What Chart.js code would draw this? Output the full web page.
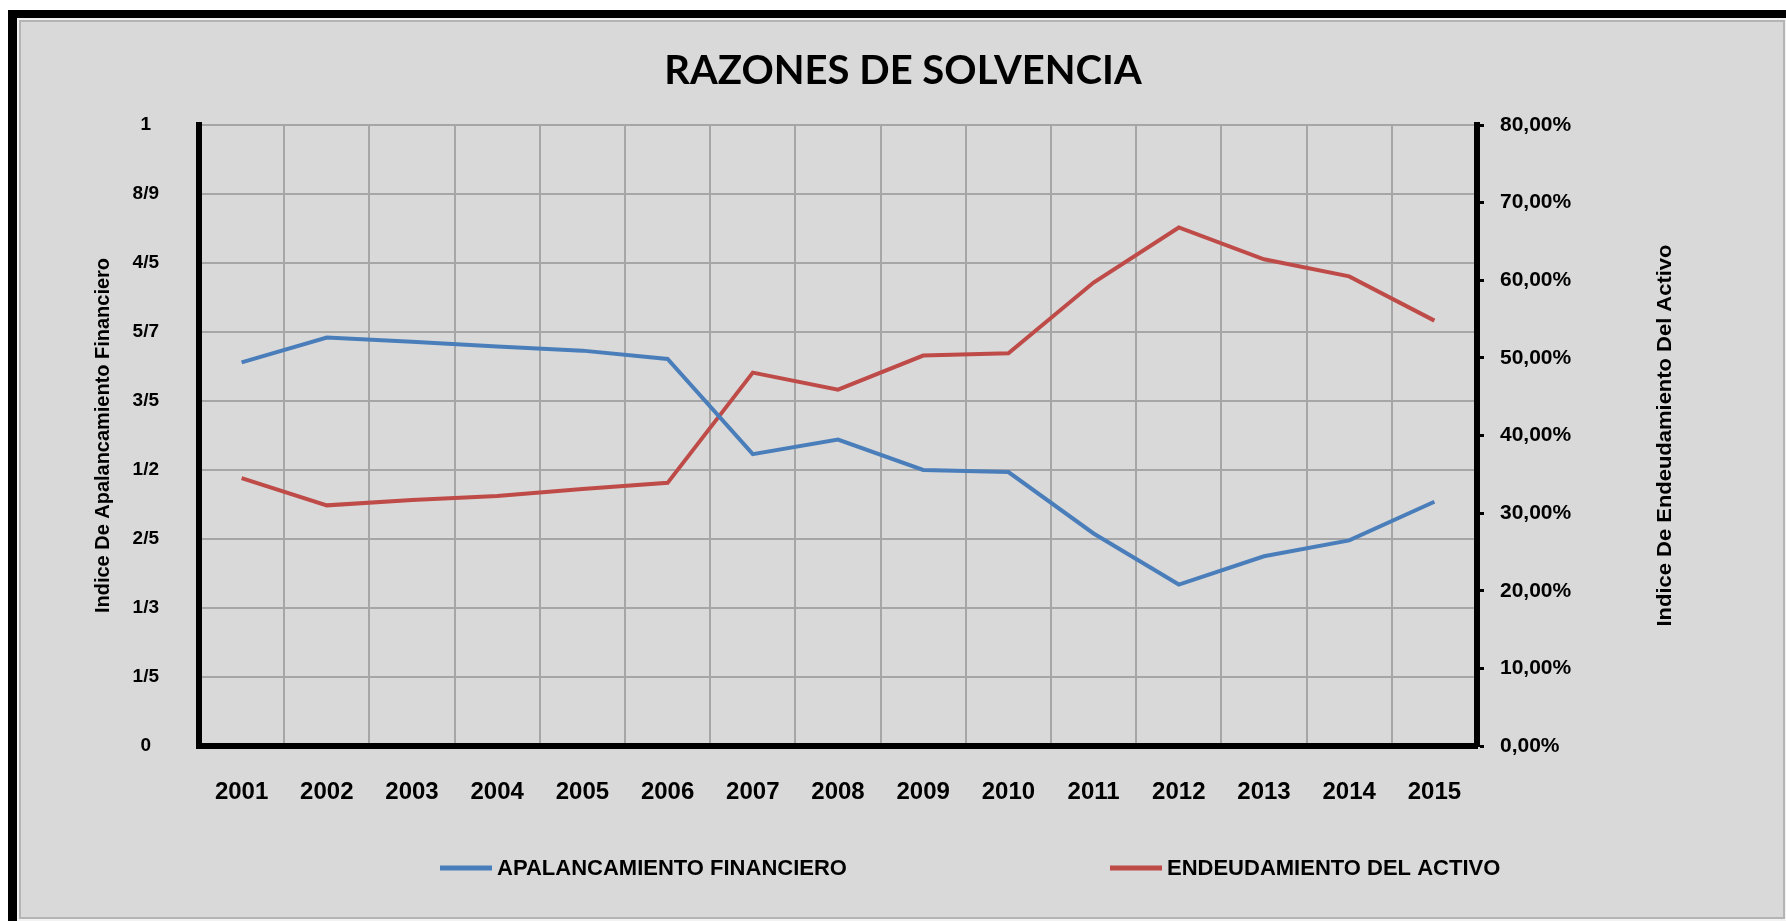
<!DOCTYPE html>
<html>
<head>
<meta charset="utf-8">
<script src="https://cdn.jsdelivr.net/npm/chart.js@4.4.1/dist/chart.umd.min.js"></script>
<style>
  html, body { margin: 0; padding: 0; background: #fff; }
  body { width: 1786px; height: 921px; position: relative; overflow: hidden; }
  .frame { position: absolute; left: 8px; top: 10px; right: 0; bottom: 0; border-top: 8px solid #000; border-left: 9px solid #000; background: #f2f2f2; }
  .panel { position: absolute; left: 2px; top: 2px; right: 1px; bottom: 2px; border: 2px solid #b4b4b4; background: #d9d9d9; }
  #chart { position: absolute; left: 0; top: 0; }
</style>
</head>
<body>
<div class="frame"><div class="panel"></div></div>
<canvas id="chart" width="1786" height="921"></canvas>
<script>
const years = ['2001', '2002', '2003', '2004', '2005', '2006', '2007', '2008', '2009', '2010', '2011', '2012', '2013', '2014', '2015'];
const apalancamiento = [0.556, 0.592, 0.586, 0.579, 0.573, 0.561, 0.423, 0.444, 0.400, 0.397, 0.308, 0.234, 0.275, 0.298, 0.354];
const endeudamiento = [0.345, 0.310, 0.317, 0.322, 0.331, 0.339, 0.481, 0.459, 0.503, 0.506, 0.597, 0.668, 0.627, 0.605, 0.548];
const leftTickLabels = ['0', '1/5', '1/3', '2/5', '1/2', '3/5', '5/7', '4/5', '8/9', '1'];

const chartTitle = 'RAZONES DE SOLVENCIA';
const leftAxisTitle = 'Indice De Apalancamiento Financiero';
const rightAxisTitle = 'Indice De Endeudamiento Del Activo';

const arial = "'Liberation Sans', Arial, sans-serif";

// title, rotated axis titles and the legend, drawn in Excel's layout
const decorations = {
    id: 'decorations',
    afterDraw(chart) {
        const c = chart.ctx;
        const area = chart.chartArea;
        const midY = (area.top + area.bottom) / 2;
        c.save();
        c.fillStyle = '#000';
        c.textBaseline = 'middle';

        c.font = "bold 40px Lato, 'Open Sans', sans-serif";
        c.textAlign = 'center';
        c.fillText(chartTitle, 903, 71);

        // the axis titles are squeezed to the length they have in the original
        c.font = 'bold 21px ' + arial;
        [[103, leftAxisTitle, 355], [1665, rightAxisTitle, 382]].forEach(([x, txt, len]) => {
            const w = c.measureText(txt).width;
            c.save();
            c.translate(x, midY);
            c.rotate(-Math.PI / 2);
            c.scale(len / w, 1);
            c.fillText(txt, 0, 0);
            c.restore();
        });

        c.font = 'bold 22px ' + arial;
        c.textAlign = 'left';
        const legendX = [440, 1110];
        chart.data.datasets.forEach((ds, i) => {
            const x = legendX[i];
            const y = 868;
            c.strokeStyle = ds.borderColor;
            c.lineWidth = 5;
            c.beginPath();
            c.moveTo(x, y);
            c.lineTo(x + 52, y);
            c.stroke();
            c.fillText(ds.label, x + 57, y + 1);
        });
        c.restore();
    }
};

new Chart(document.getElementById('chart'), {
    type: 'line',
    data: {
        labels: years,
        datasets: [
            {
                label: 'APALANCAMIENTO FINANCIERO',
                data: apalancamiento,
                yAxisID: 'y',
                borderColor: '#4a7ebb',
                borderWidth: 4,
                pointRadius: 0,
                tension: 0
            },
            {
                label: 'ENDEUDAMIENTO DEL ACTIVO',
                data: endeudamiento,
                yAxisID: 'y1',
                borderColor: '#be4b48',
                borderWidth: 4,
                pointRadius: 0,
                tension: 0
            }
        ]
    },
    options: {
        responsive: false,
        animation: false,
        layout: { padding: { top: 125, left: 0, right: 0, bottom: 0 } },
        plugins: {
            legend: { display: false },
            title: { display: false },
            tooltip: { enabled: false }
        },
        scales: {
            x: {
                offset: true,
                grid: { offset: true, color: '#a6a6a6', lineWidth: 2, drawTicks: false },
                border: { color: '#000', width: 6 },
                ticks: { color: '#000', padding: 32, font: { family: arial, size: 24, weight: 'bold' } },
                afterFit(scale) { scale.height = 175; }
            },
            y: {
                position: 'left',
                min: 0,
                max: 0.9,
                grid: { color: '#a6a6a6', lineWidth: 2, drawTicks: false },
                border: { color: '#000', width: 6 },
                ticks: {
                    stepSize: 0.1,
                    color: '#000',
                    padding: 40,
                    crossAlign: 'center',
                    font: { family: arial, size: 19, weight: 'bold' },
                    callback: (v) => leftTickLabels[Math.round(v * 10)]
                },
                afterFit(scale) { scale.width = 199; }
            },
            y1: {
                position: 'right',
                min: 0,
                max: 0.8,
                grid: { drawOnChartArea: false, drawTicks: true, tickLength: 7, tickColor: '#000', tickWidth: 3 },
                border: { color: '#000', width: 6 },
                ticks: {
                    stepSize: 0.1,
                    color: '#000',
                    padding: 16,
                    font: { family: arial, size: 21, weight: 'bold' },
                    callback: (v) => (v * 100).toFixed(2).replace('.', ',') + '%'
                },
                afterFit(scale) { scale.width = 309; }
            }
        }
    },
    plugins: [decorations]
});
</script>
</body>
</html>
